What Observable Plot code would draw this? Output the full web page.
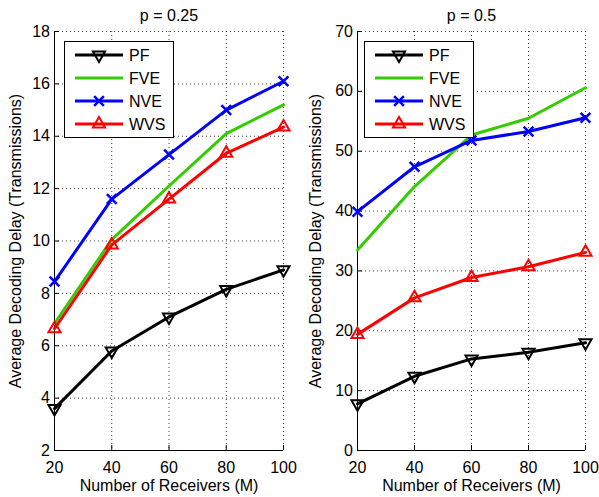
<!DOCTYPE html>
<html><head><meta charset="utf-8">
<script src="https://cdn.jsdelivr.net/npm/d3@7"></script>
<script src="https://cdn.jsdelivr.net/npm/@observablehq/plot@0.6"></script>
<style>
body{margin:0;background:#fff;font-family:"Liberation Sans",Arial,sans-serif;}
#wrap{position:relative;width:599px;height:497px;overflow:hidden;background:#fff;}
.panel{position:absolute;top:0;}
.legend{position:absolute;background:#fff;}
</style></head>
<body><div id="wrap"></div>
<script>
// ---- data ----
const receivers = [20, 40, 60, 80, 100];
const seriesNames = ["PF", "FVE", "NVE", "WVS"];
const seriesColors = ["#000000", "#33cc00", "#0000ff", "#ff0000"];
const seriesSymbols = ["triangleDown", null, "times", "triangle"];

const titles = ["p = 0.25", "p = 0.5"];
const xLabel = "Number of Receivers (M)";
const yLabel = "Average Decoding Delay (Transmissions)";

const yTicks025 = [2, 4, 6, 8, 10, 12, 14, 16, 18];
const yTicks05 = [0, 10, 20, 30, 40, 50, 60, 70];

const pf025  = [3.6, 5.8, 7.1, 8.15, 8.9];
const fve025 = [6.85, 10.05, 12.1, 14.1, 15.2];
const nve025 = [8.45, 11.6, 13.3, 15.0, 16.1];
const wvs025 = [6.65, 9.85, 11.6, 13.35, 14.35];

const pf05  = [7.8, 12.4, 15.3, 16.4, 18.0];
const fve05 = [33.5, 44.1, 52.7, 55.5, 60.6];
const nve05 = [39.9, 47.4, 51.8, 53.3, 55.6];
const wvs05 = [19.4, 25.5, 28.9, 30.7, 33.1];

// ---- build ----
const FONT = "Liberation Sans, Arial, sans-serif";
const FS = 16;
const wrap = document.getElementById("wrap");

function table(seriesArrays) {
  const rows = [];
  seriesNames.forEach((s, i) => receivers.forEach((x, j) => rows.push({series: s, x, y: seriesArrays[i][j]})));
  return rows;
}

const panels = [
  {left: 0, width: 300, mL: 54, mR: 17, yDomain: [2, 18], yTicks: yTicks025, title: titles[0],
   data: table([pf025, fve025, nve025, wvs025]), ylabDx: -39, legendLeft: 64},
  {left: 300, width: 299, mL: 57, mR: 14, yDomain: [0, 70], yTicks: yTicks05, title: titles[1],
   data: table([pf05, fve05, nve05, wvs05]), ylabDx: -42, legendLeft: 364}
];

const SYM_R = 4.5;
function dotMarks(data) {
  const marks = [];
  seriesNames.forEach((s, i) => {
    const sym = seriesSymbols[i];
    if (!sym) return;
    const d = data.filter(r => r.series === s);
    marks.push(Plot.dot(d, {
      x: "x", y: "y",
      symbol: sym === "triangleDown" ? "triangle" : sym,
      rotate: sym === "triangleDown" ? 180 : 0,
      r: SYM_R, stroke: seriesColors[i], fill: "none",
      strokeWidth: sym === "times" ? 2.5 : 2
    }));
  });
  return marks;
}

panels.forEach(p => {
  const chart = Plot.plot({
    width: p.width, height: 497,
    marginLeft: p.mL, marginRight: p.mR, marginTop: 31, marginBottom: 47,
    style: {fontFamily: FONT, fontSize: FS + "px", color: "#000", background: "transparent", overflow: "visible"},
    x: {domain: [20, 100]},
    y: {domain: p.yDomain},
    color: {domain: seriesNames, range: seriesColors},
    marks: [
      Plot.gridX(receivers, {stroke: "#000", strokeOpacity: 0.75, strokeDasharray: "1,3"}),
      Plot.gridY(p.yTicks, {stroke: "#000", strokeOpacity: 0.75, strokeDasharray: "1,3"}),
      Plot.ruleX([20], {stroke: "#000"}),
      Plot.ruleY([p.yDomain[0]], {stroke: "#000"}),
      Plot.axisX(receivers, {tickSize: -5, tickPadding: 16, label: null, fontSize: FS}),
      Plot.axisY(p.yTicks, {tickSize: -5, tickPadding: 9.5, label: null, fontSize: FS}),
      Plot.line(p.data, {x: "x", y: "y", z: "series", stroke: "series", strokeWidth: 3, strokeLinejoin: "round"}),
      ...dotMarks(p.data),
      Plot.text([p.title], {frameAnchor: "top", dy: -22, fontSize: FS}),
      Plot.text([xLabel], {frameAnchor: "bottom", dy: 40, fontSize: FS}),
      Plot.text([yLabel], {frameAnchor: "left", dx: p.ylabDx, rotate: -90, textAnchor: "middle", fontSize: FS})
    ]
  });
  const div = document.createElement("div");
  div.className = "panel";
  div.style.left = p.left + "px";
  div.appendChild(chart);
  wrap.appendChild(div);

  // legend
  const lw = 110, lh = 97;
  const lg = d3.create("svg").attr("class", "legend").attr("width", lw).attr("height", lh)
    .style("left", p.legendLeft + "px").style("top", "41px");
  lg.append("rect").attr("x", 0.5).attr("y", 0.5).attr("width", lw - 1).attr("height", lh - 1)
    .attr("fill", "#fff").attr("stroke", "#000").attr("stroke-width", 1);
  seriesNames.forEach((s, i) => {
    const cy = 14 + i * 23;
    const g = lg.append("g");
    g.append("line").attr("x1", 11).attr("x2", 59).attr("y1", cy).attr("y2", cy)
      .attr("stroke", seriesColors[i]).attr("stroke-width", 3);
    const sym = seriesSymbols[i];
    if (sym) {
      const type = sym === "times" ? d3.symbolTimes : d3.symbolTriangle;
      g.append("path").attr("d", d3.symbol(type, Math.PI * SYM_R * SYM_R)())
        .attr("transform", `translate(35,${cy}) rotate(${sym === "triangleDown" ? 180 : 0})`)
        .attr("fill", "none").attr("stroke", seriesColors[i]).attr("stroke-width", sym === "times" ? 2.5 : 2);
    }
    g.append("text").attr("x", 65).attr("y", cy).attr("dy", "0.36em")
      .attr("font-family", FONT).attr("font-size", FS).attr("fill", "#000").text(s);
  });
  wrap.appendChild(lg.node());
});
</script>
</body></html>
